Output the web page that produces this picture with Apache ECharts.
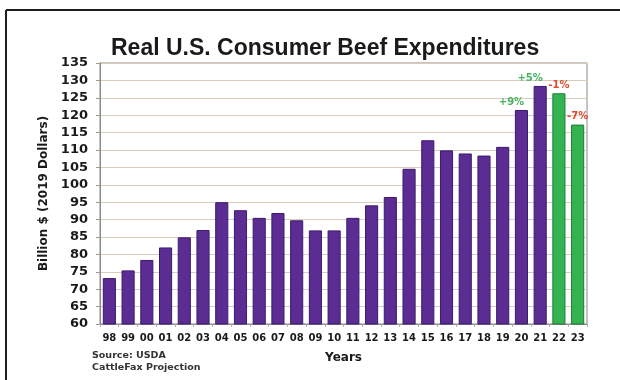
<!DOCTYPE html>
<html>
<head>
<meta charset="utf-8">
<script src="https://cdn.jsdelivr.net/npm/echarts@6/dist/echarts.min.js"></script>
<style>
  html, body { margin: 0; padding: 0; background: #fff; }
  #chart { width: 620px; height: 380px; }
</style>
</head>
<body>
<div id="chart"></div>
<script>
// Years (two-digit) on the category axis
const years = ['98','99','00','01','02','03','04','05','06','07','08','09','10','11','12','13','14','15','16','17','18','19','20','21','22','23'];
// Real consumer beef spending, billion 2019 dollars
const spending = [73.2, 75.4, 78.4, 82.0, 84.9, 87.0, 95.0, 92.7, 90.5, 91.9, 89.8, 86.9, 86.9, 90.5, 94.1, 96.5, 104.6, 112.8, 109.9, 109.0, 108.4, 110.9, 121.5, 128.4, 126.3, 117.3];
// Years that are projections (drawn green)
const projected = ['22', '23'];
// Year-over-year change callouts
const changeYears = ['20', '21', '22', '23'];
const changeText = ['+9%', '+5%', '-1%', '-7%'];
// Y axis range
const yMin = 60, yMax = 135, yStep = 5;

const purple = '#5b2d92', purpleEdge = '#3b1a6e';
const green = '#34b351', greenEdge = '#1d7d36';
const up = '#45b35f', down = '#e04a2e';

const seriesData = spending.map((v, i) => {
  const yr = years[i];
  const isProj = projected.includes(yr);
  const item = {
    value: v,
    itemStyle: {
      color: isProj ? green : purple,
      borderColor: isProj ? greenEdge : purpleEdge,
      borderWidth: 1
    }
  };
  const k = changeYears.indexOf(yr);
  if (k >= 0) {
    const txt = changeText[k];
    const positive = txt.charAt(0) === '+';
    item.label = {
      show: true,
      position: 'top',
      formatter: txt,
      color: positive ? up : down,
      fontFamily: 'DejaVu Sans',
      fontWeight: 'bold',
      fontSize: 10,
      offset: positive ? [-10, 2] : [0, 2]
    };
  }
  return item;
});

const chart = echarts.init(document.getElementById('chart'), null, { renderer: 'canvas' });
chart.setOption({
  animation: false,
  backgroundColor: '#fff',
  title: {
    text: 'Real U.S. Consumer Beef Expenditures',
    left: 106,
    top: 32,
    textStyle: {
      fontFamily: 'Liberation Sans',
      fontWeight: 'bold',
      fontSize: 23,
      color: '#1a1a1a'
    }
  },
  grid: {
    left: 100,
    right: 33,
    top: 63,
    bottom: 56,
    show: true,
    borderColor: '#8a8a8a',
    borderWidth: 1,
    backgroundColor: 'transparent'
  },
  xAxis: {
    type: 'category',
    data: years,
    name: 'Years',
    nameLocation: 'middle',
    nameGap: 28,
    nameTextStyle: {
      fontFamily: 'DejaVu Sans',
      fontWeight: 'bold',
      fontSize: 12,
      color: '#1a1a1a'
    },
    axisLine: { show: true, lineStyle: { color: '#8a8a8a' } },
    axisTick: { show: true, length: 3, lineStyle: { color: '#b0b0b0' } },
    axisLabel: {
      interval: 0,
      margin: 9,
      fontFamily: 'DejaVu Sans',
      fontWeight: 'bold',
      fontSize: 10,
      color: '#1a1a1a'
    }
  },
  yAxis: {
    type: 'value',
    min: yMin,
    max: yMax,
    interval: yStep,
    name: 'Billion $ (2019 Dollars)',
    nameLocation: 'middle',
    nameRotate: 90,
    nameGap: 48,
    nameTextStyle: {
      fontFamily: 'DejaVu Sans',
      fontWeight: 'bold',
      fontSize: 12,
      color: '#1a1a1a'
    },
    axisLine: { show: true, lineStyle: { color: '#8a8a8a' } },
    axisTick: { show: true, length: 4, lineStyle: { color: '#9a9a9a' } },
    axisLabel: {
      margin: 12,
      fontFamily: 'DejaVu Sans',
      fontWeight: 'bold',
      fontSize: 13,
      color: '#1a1a1a'
    },
    splitLine: { show: true, lineStyle: { color: '#d9ccb8', width: 1 } }
  },
  series: [{
    type: 'bar',
    data: seriesData,
    barCategoryGap: '30%'
  }],
  graphic: [
    { type: 'line', shape: { x1: 6, y1: 10, x2: 620, y2: 10 }, style: { stroke: '#1e1e1e', lineWidth: 2 } },
    { type: 'line', shape: { x1: 6, y1: 10, x2: 6, y2: 380 }, style: { stroke: '#1e1e1e', lineWidth: 2 } },
    {
      type: 'text', left: 92, top: 351,
      style: { text: 'Source: USDA', font: 'bold 9.5px "DejaVu Sans"', fill: '#333' }
    },
    {
      type: 'text', left: 92, top: 363,
      style: { text: 'CattleFax Projection', font: 'bold 9.5px "DejaVu Sans"', fill: '#333' }
    }
  ]
});
</script>
</body>
</html>
